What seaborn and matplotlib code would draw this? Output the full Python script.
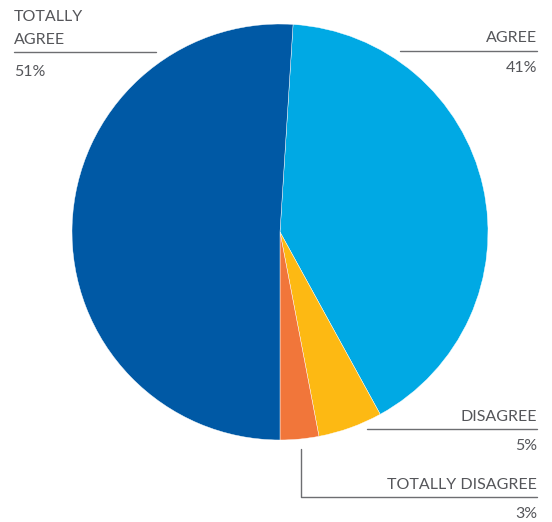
import matplotlib
matplotlib.use("Agg")
import matplotlib.pyplot as plt
import seaborn as sns
from matplotlib.lines import Line2D

sns.set_style("white")
plt.rcParams['font.family'] = ['Lato', 'DejaVu Sans']

# data, clockwise from the top
labels = ["AGREE", "DISAGREE", "TOTALLY DISAGREE", "TOTALLY AGREE"]
values = [41, 5, 3, 51]
colors = ["#00a9e4", "#fdb913", "#f1763a", "#0059a5"]

W, H = 552, 522
fig = plt.figure(figsize=(W / 100, H / 100), dpi=100)

# pie axes: centre (280, 232), radius 208 px
cx, cy, r = 280, 232, 208
ax = fig.add_axes([(cx - r) / W, (H - cy - r) / H, 2 * r / W, 2 * r / H])
# Totally Agree (last slice) ends exactly at the bottom
start = 90 - 360 * values[3] / 100 + 180
ax.pie(values, colors=colors, startangle=start, counterclock=False, radius=1,
       wedgeprops=dict(linewidth=0.3, edgecolor="white"))
ax.set_xlim(-1, 1)
ax.set_ylim(-1, 1)
ax.axis("off")


def px(x, y):
    return x / W, 1 - y / H


txt = "#55565a"
lc = "#6d6e71"
fs = 11.5


def hline(x0, x1, y):
    fig.add_artist(Line2D([x0 / W, x1 / W], [1 - y / H, 1 - y / H],
                          color=lc, lw=1, transform=fig.transFigure))


# totally agree
fig.text(*px(14, 21), "TOTALLY", color=txt, fontsize=fs, ha="left", va="baseline")
fig.text(*px(14, 43.5), "AGREE", color=txt, fontsize=fs, ha="left", va="baseline")
hline(14, 156, 52)
fig.text(*px(14, 76), f"{values[3]}%", color=txt, fontsize=fs, ha="left", va="baseline")

# agree
fig.text(*px(537, 42.5), labels[0], color=txt, fontsize=fs, ha="right", va="baseline")
hline(400, 537, 51)
fig.text(*px(537, 72), f"{values[0]}%", color=txt, fontsize=fs, ha="right", va="baseline")

# disagree
fig.text(*px(537, 421), labels[1], color=txt, fontsize=fs, ha="right", va="baseline")
hline(367, 537, 429)
fig.text(*px(537, 450), f"{values[1]}%", color=txt, fontsize=fs, ha="right", va="baseline")

# totally disagree
fig.text(*px(537, 489), labels[2], color=txt, fontsize=fs, ha="right", va="baseline")
fig.add_artist(Line2D([301 / W, 301 / W, 537 / W],
                      [1 - 449 / H, 1 - 497 / H, 1 - 497 / H],
                      color=lc, lw=1, transform=fig.transFigure))
fig.text(*px(537, 518), f"{values[2]}%", color=txt, fontsize=fs, ha="right", va="baseline")

fig.savefig("out.png", dpi=100)
